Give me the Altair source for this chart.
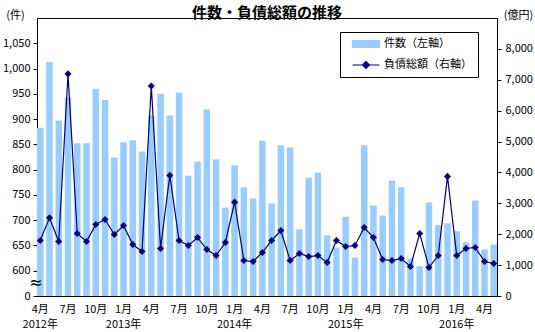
import json
import altair as alt
import pandas as pd

F = "Noto Sans CJK JP"

# 件数（左軸）: 2012年4月 – 2016年5月
counts = [883, 1013, 897, 942, 852, 852, 960, 938, 824, 854, 858, 836, 907,
          950, 907, 952, 788, 816, 919, 820, 725, 808, 765, 743, 857, 733,
          848, 844, 682, 784, 794, 670, 646, 707, 626, 848, 729, 709, 778,
          765, 624, 609, 735, 690, 694, 678, 656, 739, 642, 652]
# 負債総額（右軸, 億円）
debts = [1797, 2530, 1764, 7190, 2024, 1764, 2315, 2478, 1991, 2283, 1667, 1440, 6800,
         1537, 3905, 1797, 1634, 1894, 1505, 1310, 1732, 3039, 1148, 1116, 1407, 1797,
         2121, 1148, 1375, 1278, 1310, 1083, 1797, 1602, 1634, 2218, 1894, 1180, 1148,
         1213, 953, 2024, 921, 1310, 3872, 1310, 1537, 1570, 1116, 1051]

start_year, start_month = 2012, 4
months = [(start_year + (start_month - 1 + i) // 12, (start_month - 1 + i) % 12 + 1)
          for i in range(len(counts))]
x_labels = []
for i, (yy, mm) in enumerate(months):
    if i % 3 == 0:
        lab = [f"{mm}月"]
        if i == 0 or mm == 1:
            lab.append(f"{yy}年")
        x_labels.append(lab)
    else:
        x_labels.append("")

S1 = "件数（左軸）"
S2 = "負債総額（右軸）"
BAR = "#99CCFF"
NAVY = "#000080"
BASE = 550  # axis break: display 0 corresponds to 550 件

df_bar = pd.DataFrame({"i": range(len(counts)), "count": counts})
df_line = pd.DataFrame({"i": range(len(debts)), "debt": debts})
df_leg = pd.DataFrame({"series": [S1, S2]})

x_enc = alt.X(
    "i:O",
    scale=alt.Scale(paddingInner=0.3, paddingOuter=0),
    axis=alt.Axis(
        title=None,
        values=list(range(0, len(counts), 3)),
        labelExpr=f"{json.dumps(x_labels, ensure_ascii=False)}[datum.value]",
        labelAngle=0,
        ticks=False,
        labelPadding=7,
        labelLineHeight=15,
        labelOverlap=False,
        labelBound=False,
        labelFontSize=11,
    ),
)

color_scale = alt.Scale(domain=[S1, S2], range=[BAR, NAVY])
shape_scale = alt.Scale(
    domain=[S1, S2],
    range=["M-2.7,-0.7H2.7V0.7H-2.7Z", "M-2.7,0H2.7M-0.7,0L0,-0.7L0.7,0L0,0.7Z"],
)
legend = alt.Legend(
    title=None,
    orient="none",
    legendX=303,
    legendY=14,
    padding=6,
    strokeColor="black",
    fillColor="white",
    labelFont=F,
    labelFontSize=11,
    labelColor="black",
    symbolSize=100,
    symbolOffset=14,
    labelOffset=12,
    rowPadding=9,
    symbolOpacity=1,
    symbolStrokeWidth=1.2,
)

bars = alt.Chart(df_bar).transform_calculate(
    disp=f"datum.count - {BASE}"
).mark_bar(opacity=1, color=BAR).encode(
    x=x_enc,
    y=alt.Y(
        "disp:Q",
        scale=alt.Scale(domain=[0, 1100 - BASE], nice=False, zero=True),
        axis=alt.Axis(
            values=list(range(0, 501, 50)),
            labelExpr=f"datum.value == 0 ? '0' : format(datum.value + {BASE}, ',')",
            tickSize=4,
            labelPadding=3,
            title="(件)",
            titleAngle=0,
            titleAlign="center",
            titleBaseline="middle",
            titleX=-22,
            titleY=-3,
            titleFontWeight="normal",
            titleFontSize=11,
        ),
    ),
)

y_right = alt.Y(
    "debt:Q",
    scale=alt.Scale(domain=[0, 9000], nice=False),
    axis=alt.Axis(
        orient="right",
        values=list(range(0, 8001, 1000)),
        format=",d",
        tickSize=4,
        labelPadding=4,
        title="(億円)",
        titleAngle=0,
        titleAlign="center",
        titleBaseline="middle",
        titleX=21,
        titleY=-3,
        titleFontWeight="normal",
        titleFontSize=11,
    ),
)

line = alt.Chart(df_line).mark_line(strokeWidth=1.2, color=NAVY).encode(x=x_enc, y=y_right)
points = alt.Chart(df_line).mark_point(
    shape="diamond", filled=True, size=50, opacity=1, color=NAVY
).encode(x=x_enc, y=y_right)

# legend-only layer (invisible); symbols come from the shape/fill/stroke scales
leg = alt.Chart(df_leg).mark_point(filled=True, opacity=0).encode(
    x=alt.value(0),
    y=alt.value(0),
    fill=alt.Fill("series:N", scale=color_scale, legend=legend),
    stroke=alt.Stroke("series:N", scale=color_scale, legend=legend),
    shape=alt.Shape("series:N", scale=shape_scale, legend=legend),
)

brk = alt.Chart(pd.DataFrame({"t": ["≈"]})).mark_text(
    font="DejaVu Sans", fontSize=16, color="black"
).encode(text="t:N", x=alt.value(-1), y=alt.value(265))

chart = alt.layer(bars, alt.layer(line, points), leg, brk).resolve_scale(
    y="independent"
).properties(
    width=460,
    height=278,
    title=alt.TitleParams(
        text="件数・負債総額の推移",
        font=F,
        fontSize=15,
        fontWeight="bold",
        anchor="middle",
        offset=3,
        dy=15,
        color="black",
    ),
    autosize=alt.AutoSizeParams(type="none"),
    padding={"left": 37, "top": 18, "right": 38, "bottom": 36},
).configure_view(
    stroke="black", strokeWidth=1
).configure_axis(
    labelFont=F,
    titleFont=F,
    labelColor="black",
    titleColor="black",
    domainColor="black",
    tickColor="black",
    grid=False,
    labelFontSize=11,
)

chart.save("out.html", embed_options={"renderer": "svg", "actions": False})
